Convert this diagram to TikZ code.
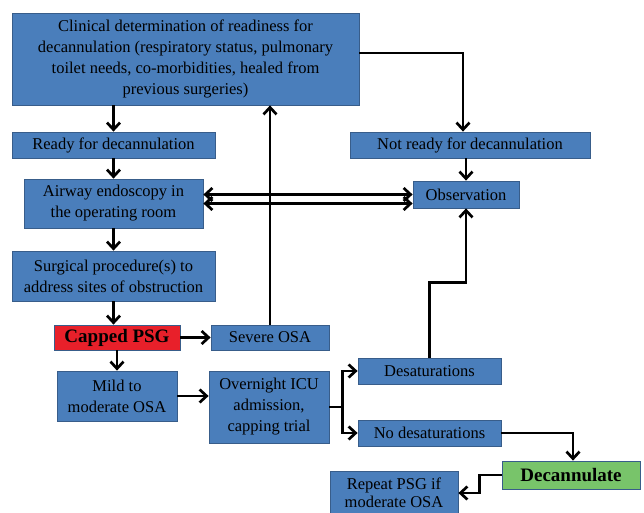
\documentclass[tikz,border=0pt]{standalone}
\usepackage{fontspec}
\setmainfont{Liberation Serif}
\usepackage{xcolor}
\usetikzlibrary{arrows.meta}
\definecolor{boxblue}{HTML}{4A7EBB}
\definecolor{boxedge}{HTML}{385D8A}
\definecolor{capred}{HTML}{E8202A}
\definecolor{decgreen}{HTML}{78C46A}

\begin{document}
\begin{tikzpicture}[x=1pt,y=-1pt,
  every node/.style={font=\fontsize{16.5}{21}\selectfont},
  blk/.style={draw=boxedge,fill=boxblue,line width=0.8pt,align=center,inner sep=1pt},
  arr/.style={-{Straight Barb[length=7pt,width=13pt]},line width=2.7pt},
  dbl/.style={{Straight Barb[length=7pt,width=13pt]}-{Straight Barb[length=7pt,width=13pt]},line width=2.7pt}]
  \useasboundingbox (0,0) rectangle (644,513);
  \clip (0,0) rectangle (644,513);
  % left column
  \node[blk,minimum width=347pt,minimum height=92pt] (clin) at (185.5,59)
    {Clinical determination of  readiness for\\ decannulation (respiratory status, pulmonary\\ toilet needs, co-morbidities, healed from\\ previous surgeries)};
  \node[blk,minimum width=203pt,minimum height=26pt] (ready) at (113.5,145) {Ready for decannulation};
  \node[blk,minimum width=179pt,minimum height=49pt] (endo) at (113.5,203.5) {Airway endoscopy in\\ the operating room};
  \node[blk,minimum width=203pt,minimum height=50pt] (surg) at (113.5,276) {Surgical procedure(s) to\\ address sites of  obstruction};
  \node[blk,fill=capred,minimum width=126pt,minimum height=25pt,font=\fontsize{19}{22}\selectfont\bfseries] (psg) at (117,337.5) {Capped PSG};
  \node[blk,minimum width=118pt,minimum height=25pt] (severe) at (270,337.5) {Severe OSA};
  \node[blk,minimum width=120pt,minimum height=50pt] (mild) at (117,396) {Mild to\\ moderate OSA};
  \node[blk,minimum width=120pt,minimum height=72pt] (icu) at (269,407) {Overnight ICU\\ admission,\\ capping trial};
  % right column
  \node[blk,minimum width=240pt,minimum height=26pt] (notready) at (470,145) {Not ready for decannulation};
  \node[blk,minimum width=106pt,minimum height=27pt] (obs) at (466,194.5) {Observation};
  \node[blk,minimum width=143pt,minimum height=26pt] (desat) at (429.5,371) {Desaturations};
  \node[blk,minimum width=143pt,minimum height=26pt] (nodesat) at (429.5,433) {No desaturations};
  \node[blk,fill=decgreen,minimum width=138pt,minimum height=28pt,font=\fontsize{19}{22}\selectfont\bfseries] (decan) at (571,475) {Decannulate};
  \node[blk,minimum width=128pt,minimum height=44pt,font=\fontsize{16.5}{18}\selectfont] (repeat) at (394,493) {Repeat PSG if\\ moderate OSA};

  % connectors
  \draw[arr] (ready.north |- clin.south) -- (ready.north);
  \draw[arr] ([yshift=6pt]clin.east) -| ([xshift=-7pt]notready.north);
  \draw[arr] (obs.north |- notready.south) -- (obs.north);
  \draw[arr] (ready.south) -- (endo.north);
  \draw[arr] (endo.south) -- (surg.north);
  \draw[arr] (surg.south) -- (surg.south |- psg.north);
  \draw[arr] (severe.north) -- (severe.north |- clin.south);
  \draw[dbl] (endo.east |- obs.center) -- (obs.west);
  \draw[dbl] (endo.east) -- (endo.east -| obs.west);
  \draw[arr] (psg.east) -- (severe.west);
  \draw[arr] (psg.south) -- (mild.north);
  \draw[arr] (mild.east) -- (mild.east -| icu.west);
  \coordinate (split) at ([xshift=13pt]icu.east);
  \draw[line width=2.7pt] (icu.east) -- (split);
  \draw[arr] (split) |- (desat.west);
  \draw[arr] (split) |- (nodesat.west);
  \draw[arr] (desat.north) -- ++(0,-75) -| (obs.south);
  \draw[arr] (nodesat.east) -| ([xshift=2pt]decan.north);
  \draw[arr] (decan.west) -- ++(-22,0) |- (repeat.east);
\end{tikzpicture}
\end{document}
